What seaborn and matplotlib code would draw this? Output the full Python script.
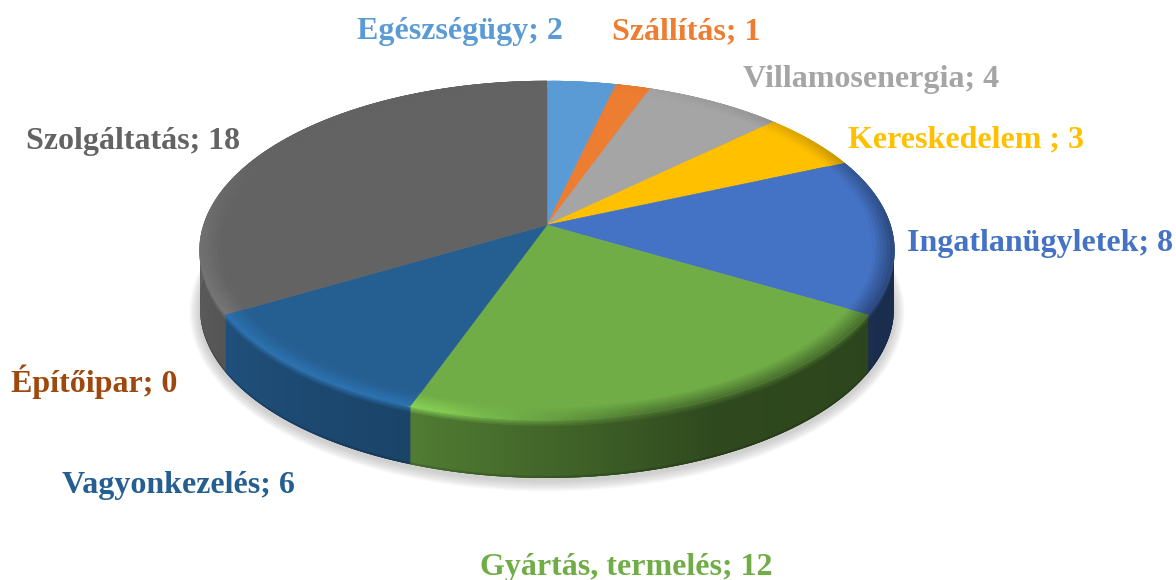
import numpy as np
import matplotlib
matplotlib.use("Agg")
import matplotlib.pyplot as plt
from matplotlib.collections import PolyCollection
from matplotlib.colors import to_rgb
import seaborn as sns

categories = ["Egészségügy", "Szállítás", "Villamosenergia", "Kereskedelem ", "Ingatlanügyletek",
              "Gyártás, termelés", "Építőipar", "Vagyonkezelés", "Szolgáltatás"]
values = [2, 1, 4, 3, 8, 12, 0, 6, 18]
slice_colors = ["#5B9BD5", "#ED7D31", "#A5A5A5", "#FFC000", "#4472C4",
                "#70AD47", "#9E480E", "#255E91", "#636363"]
label_x = [460, 686, 871, 966, 1040, 626, 94, 178, 133]
label_y = [32, 32, 79, 140, 243, 567, 382, 485, 142]

sns.set_theme(style="white")
plt.rcParams["font.family"] = ["Liberation Serif", "DejaVu Serif"]
palette = sns.color_palette(slice_colors)

# perspective of the pie disc, in pixels
CX, CY = 547, 225
KX, AY, PC = 343.0, -131.8, 0.1504
DEPTH = 58
BEVEL = 0.94


def project(r, theta, drop=0.0):
    t = np.radians(theta)
    u, v = r * np.sin(t), r * np.cos(t)
    w = PC * v + 1
    return CX + KX * u / w, (AY * v + CY) / w + drop


def rim_shade(theta):
    return np.interp(theta, [0, 60, 120, 155, 177, 200, 240, 270, 360],
                     [0.95, 0.38, 0.4, 0.42, 0.57, 0.72, 0.85, 0.97, 0.95])


def highlight(theta):
    return np.interp(theta, [0, 170, 200, 240, 270, 295, 360], [1, 1, 1.22, 1.2, 1.12, 1, 1])


def edge_mix(theta):
    return np.interp(theta, [0, 60, 90, 165, 195, 360], [0, 0.3, 0.6, 0.6, 0, 0])


fig = plt.figure(figsize=(11.76, 5.8), dpi=100)
ax = fig.add_axes([0, 0, 1, 1])
ax.set_xlim(0, 1176)
ax.set_ylim(580, 0)
ax.axis("off")

# soft shadow below the pie
circle = np.linspace(0, 360, 361)
for i in range(14):
    sx, sy = project(1.0, circle, DEPTH + 3)
    grow = 1 + (14 - i) * 0.0022
    ax.fill(CX + (sx - CX) * grow, 300 + (sy - 300) * (grow + 0.002 * (14 - i)),
            color="#808080", alpha=0.026, lw=0, zorder=1)

edges = np.concatenate([[0], np.cumsum(values)]) / np.sum(values) * 360
rim_polys, rim_cols = [], []
top_polys, top_cols = [], []
ring_polys, ring_cols = [], []

for start, stop, color in zip(edges[:-1], edges[1:], palette):
    if stop <= start:
        continue
    base = np.array(to_rgb(color))
    angles = np.arange(start, stop + 0.5, 0.5)
    angles[-1] = stop

    # flat top of the slice
    ax_, ay_ = project(BEVEL, angles)
    top_polys.append(np.vstack([[CX, CY], np.column_stack([ax_, ay_])]))
    top_cols.append(base)

    for a, b in zip(angles[:-1], angles[1:]):
        mid = (a + b) / 2
        rim = base * rim_shade(mid)
        mix = edge_mix(mid)
        edge = np.clip(base * highlight(mid), 0, 1) * (1 - mix) + rim * mix
        # strips overlap the next one so no seams show between them
        span = np.array([a, min(b + 1.0, 360 if stop >= 360 else 999)])

        # bevelled band on the outer edge of the top
        steps = np.linspace(BEVEL, 1.0, 7)
        for k in range(6):
            x0, y0 = project(steps[k], span)
            x1, y1 = project(steps[k + 1] + 0.002, span[::-1])
            ring_polys.append(np.column_stack([np.r_[x0, x1], np.r_[y0, y1]]))
            ring_cols.append(base + (edge - base) * (k + 0.5) / 6)

        # side wall, fading from the bevel colour into the wall colour
        drops = [0, 2, 4, 6, 8, DEPTH - 2, DEPTH]
        for k in range(len(drops) - 1):
            x0, y0 = project(1.0, span, drops[k])
            x1, y1 = project(1.0, span[::-1], drops[k + 1] + (0.5 if k < 5 else 0))
            rim_polys.append(np.column_stack([np.r_[x0, x1], np.r_[y0, y1]]))
            if k < 4:
                c = edge + (rim - edge) * (k + 1) / 4
            elif k == 4:
                c = rim
            else:
                c = rim * 0.85
            rim_cols.append(c)

ax.add_collection(PolyCollection(rim_polys, facecolors=rim_cols, linewidths=0, zorder=2))
ax.add_collection(PolyCollection(ring_polys, facecolors=ring_cols, linewidths=0, zorder=3))
ax.add_collection(PolyCollection(top_polys, facecolors=top_cols, edgecolors=top_cols, linewidths=0.4, zorder=4))

for name, val, x, y, color in zip(categories, values, label_x, label_y, palette):
    ax.text(x, y, f"{name}; {val}", color=color, fontsize=23, fontweight="bold",
            ha="center", va="center", zorder=5)

plt.savefig("out.png", dpi=100)
plt.close()
